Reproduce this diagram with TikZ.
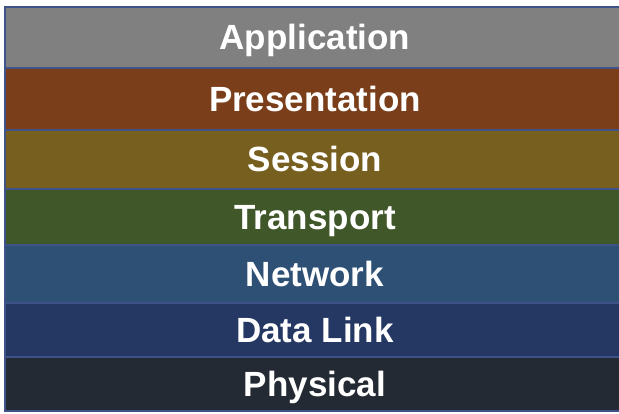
\documentclass[tikz,border=0pt]{standalone}
\usepackage{fontspec}
\setmainfont{Liberation Sans}
\usetikzlibrary{positioning}
\definecolor{edge}{HTML}{3F5388}
\definecolor{appgray}{HTML}{808080}
\definecolor{presbrown}{HTML}{7A3F1A}
\definecolor{sesolive}{HTML}{77601F}
\definecolor{trgreen}{HTML}{40572A}
\definecolor{netblue}{HTML}{2E5075}
\definecolor{linknavy}{HTML}{253763}
\definecolor{phydark}{HTML}{242A33}
\tikzstyle{layer} = [draw=edge, line width=1.5pt, rectangle, outer sep=0pt,
	minimum width=620pt, text=white, text height=25pt, text depth=0pt,
	font=\bfseries\fontsize{35}{35}\selectfont]

\begin{document}
\begin{tikzpicture}[node distance=0pt]
	\useasboundingbox (0pt,0pt) rectangle (619pt,-414pt);
	\node [layer, fill=appgray, minimum height=61pt, anchor=north west] (app) at (5pt,-7pt) {Application};
	\node [layer, fill=presbrown, minimum height=62pt, below=of app] (pres) {Presentation};
	\node [layer, fill=sesolive, minimum height=59pt, below=of pres] (ses) {Session};
	\node [layer, fill=trgreen, minimum height=56pt, below=of ses] (trans) {Transport};
	\node [layer, fill=netblue, minimum height=58pt, below=of trans] (net) {Network};
	\node [layer, fill=linknavy, minimum height=54pt, below=of net] (link) {Data Link};
	\node [layer, fill=phydark, minimum height=54pt, below=of link] (phy) {Physical};
\end{tikzpicture}
\end{document}
